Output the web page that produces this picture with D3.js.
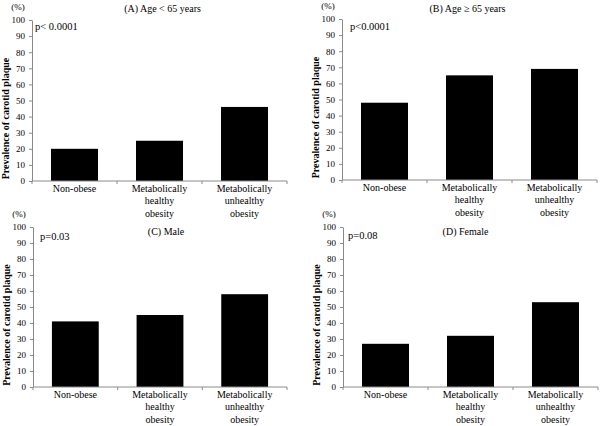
<!DOCTYPE html>
<html>
<head>
<meta charset="utf-8">
<script src="https://cdn.jsdelivr.net/npm/d3@7"></script>
<style>
  body { margin: 0; background: #fff; }
  svg, svg text { font-family: "Liberation Serif", "Times New Roman", serif; }
</style>
</head>
<body>
<div id="chart"></div>
<script>
// data
var categories = ["Non-obese", "Metabolically healthy obesity", "Metabolically unhealthy obesity"];
var categoryLines = [["Non-obese"], ["Metabolically", "healthy", "obesity"], ["Metabolically", "unhealthy", "obesity"]];
var ageUnder65 = [20, 25, 46];
var age65Plus = [48, 65, 69];
var male = [41, 45, 58];
var female = [27, 32, 53];
var panelTitles = ["(A) Age < 65 years", "(B) Age \u2265 65 years", "(C) Male", "(D) Female"];
var pLabels = ["p< 0.0001", "p<0.0001", "p=0.03", "p=0.08"];
var yTicks = [0, 10, 20, 30, 40, 50, 60, 70, 80, 90, 100];

var width = 600, height = 426;
var axisColor = "#8a8a8a";
var serif = "Liberation Serif, Times New Roman, serif";

var svg = d3.select("#chart").append("svg")
    .attr("width", width)
    .attr("height", height)
    .attr("font-family", serif);

// panel layout: plot area origin and size, title offsets
var panels = [
  {values: ageUnder65, left: 32,  top: 20,  w: 255, h: 161, titleY: -8,  titleDx: 3,  pX: 3,  pY: 10},
  {values: age65Plus,  left: 342, top: 19,  w: 255, h: 161, titleY: -7,  titleDx: -2, pX: 8,  pY: 11},
  {values: male,       left: 33,  top: 227, w: 254, h: 160, titleY: 8,   titleDx: 6,  pX: 7,  pY: 13},
  {values: female,     left: 343, top: 227, w: 255, h: 160, titleY: 8,   titleDx: -5, pX: 5,  pY: 12}
];

panels.forEach(function(p, i) {
  var g = svg.append("g")
      .attr("transform", "translate(" + p.left + "," + p.top + ")");

  var x = d3.scaleBand()
      .domain(categories)
      .range([0, p.w])
      .paddingInner(0.447)
      .paddingOuter(0.2235);

  var y = d3.scaleLinear()
      .domain([0, 100])
      .range([p.h, 0]);

  // bars
  g.selectAll("rect.bar")
      .data(p.values)
      .enter()
      .append("rect")
      .attr("class", "bar")
      .attr("x", function(d, j) { return x(categories[j]); })
      .attr("width", x.bandwidth())
      .attr("y", function(d) { return y(d); })
      .attr("height", function(d) { return p.h - y(d); })
      .attr("fill", "#000");

  // y axis
  var yAxis = d3.axisLeft(y)
      .tickValues(yTicks)
      .tickSize(3)
      .tickSizeOuter(0)
      .tickPadding(4);
  var ya = g.append("g").call(yAxis).attr("font-family", serif);
  ya.select(".domain").attr("stroke", axisColor);
  ya.selectAll(".tick line").attr("stroke", axisColor);
  ya.selectAll("text")
      .attr("font-size", 9)
      .attr("fill", "#000");

  // x axis: line with ticks at category boundaries
  var xa = g.append("g").attr("transform", "translate(0," + p.h + ")");
  xa.append("line")
      .attr("x1", 0).attr("x2", p.w)
      .attr("stroke", axisColor);
  var step = x.step();
  xa.selectAll("line.bound")
      .data(d3.range(categories.length + 1))
      .enter()
      .append("line")
      .attr("class", "bound")
      .attr("x1", function(k) { return k * step; })
      .attr("x2", function(k) { return k * step; })
      .attr("y1", 0).attr("y2", 3)
      .attr("stroke", axisColor);

  // category labels
  var lab = xa.selectAll("text.cat")
      .data(categories)
      .enter()
      .append("text")
      .attr("class", "cat")
      .attr("text-anchor", "middle")
      .attr("font-size", 10)
      .attr("x", function(d) { return x(d) + x.bandwidth() / 2; })
      .attr("y", 11);
  lab.each(function(d, j) {
    d3.select(this).selectAll("tspan")
        .data(categoryLines[j])
        .enter()
        .append("tspan")
        .attr("x", x(d) + x.bandwidth() / 2)
        .attr("dy", function(t, k) { return k === 0 ? 0 : 12.3; })
        .text(function(t) { return t; });
  });

  // y axis title
  g.append("text")
      .attr("transform", "translate(-23," + (p.h / 2 + 18) + ") rotate(-90)")
      .attr("text-anchor", "middle")
      .attr("font-size", 10)
      .attr("font-weight", "bold")
      .text("Prevalence of carotid plaque");

  // unit label
  g.append("text")
      .attr("x", -14)
      .attr("y", -10)
      .attr("text-anchor", "middle")
      .attr("font-size", 9)
      .text("(%)");

  // panel title
  g.append("text")
      .attr("x", p.w / 2 + p.titleDx)
      .attr("y", p.titleY)
      .attr("text-anchor", "middle")
      .attr("font-size", 10)
      .text(panelTitles[i]);

  // p value
  g.append("text")
      .attr("x", p.pX)
      .attr("y", p.pY)
      .attr("font-size", 10.5)
      .text(pLabels[i]);
});
</script>
</body>
</html>
